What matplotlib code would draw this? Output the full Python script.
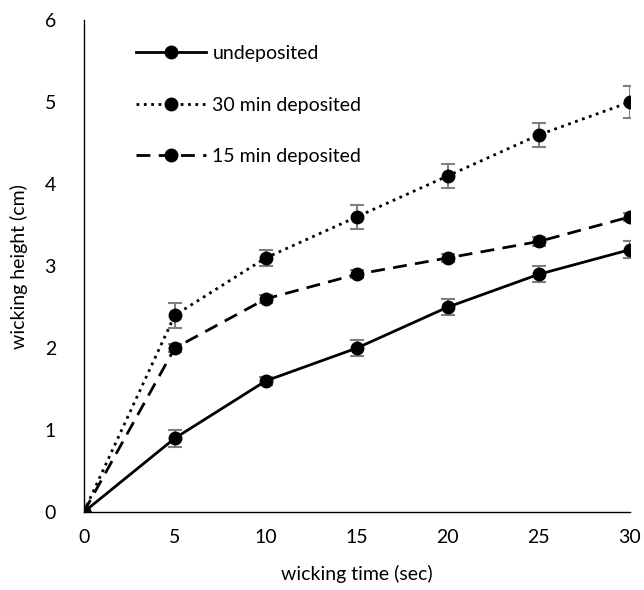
import matplotlib.pyplot as plt

plt.rcParams['font.family'] = ['Lato', 'DejaVu Sans']

# --------- Dados ---------
tempo = [0, 5, 10, 15, 20, 25, 30]

undeposited = [0, 0.9, 1.6, 2.0, 2.5, 2.9, 3.2]
undeposited_err = [0, 0.1, 0.05, 0.1, 0.1, 0.1, 0.1]

dep30 = [0, 2.4, 3.1, 3.6, 4.1, 4.6, 5.0]
dep30_err = [0, 0.15, 0.1, 0.15, 0.15, 0.15, 0.2]

dep15 = [0, 2.0, 2.6, 2.9, 3.1, 3.3, 3.6]
dep15_err = [0, 0.05, 0.05, 0.05, 0.05, 0.05, 0.05]

# --------- Gráfico ---------
fig = plt.figure(figsize=(6.44, 5.9), dpi=100)
ax = fig.add_axes([0.130, 0.132, 0.848, 0.834])

estilo_err = dict(ecolor='#7f7f7f', elinewidth=1.5, capsize=5, capthick=1.5)
ax.errorbar(tempo, undeposited, yerr=undeposited_err, color='black', linestyle='-',
            linewidth=2, marker='o', markersize=9, label='undeposited', **estilo_err)
ax.errorbar(tempo, dep30, yerr=dep30_err, color='black', linestyle=':',
            linewidth=2, marker='o', markersize=9, label='30 min deposited', **estilo_err)
ax.errorbar(tempo, dep15, yerr=dep15_err, color='black', linestyle=(0, (5, 3)),
            linewidth=2, marker='o', markersize=9, label='15 min deposited', **estilo_err)

ax.set_xlim(0, 30)
ax.set_ylim(0, 6)
ax.set_xticks(range(0, 31, 5))
ax.set_yticks(range(0, 7))
ax.tick_params(length=0, labelsize=14)
ax.tick_params(axis='x', pad=12)
ax.tick_params(axis='y', pad=20)
for lado in ['top', 'right']:
    ax.spines[lado].set_visible(False)
for lado in ['left', 'bottom']:
    ax.spines[lado].set_linewidth(1)
ax.set_xlabel('wicking time (sec)', fontsize=14, labelpad=14)
ax.set_ylabel('wicking height (cm)', fontsize=14, labelpad=12)

handles, labels = ax.get_legend_handles_labels()
handles = [h[0] for h in handles]
ax.legend(handles, labels, loc='upper left', bbox_to_anchor=(0.063, 0.985), frameon=False,
          fontsize=14, handlelength=3.6, labelspacing=1.78, handletextpad=0.35)

fig.savefig('out.png', dpi=100)
